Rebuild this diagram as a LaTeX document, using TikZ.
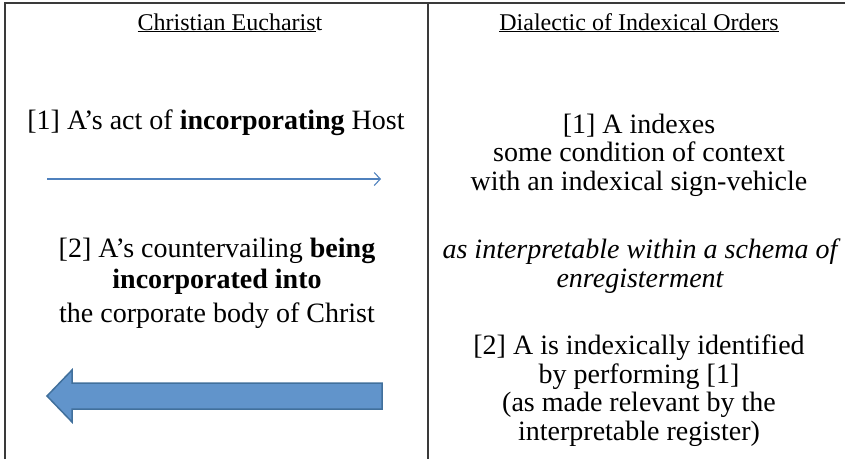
\documentclass[tikz,border=0pt]{standalone}
\usepackage{fontspec}
\setmainfont{Liberation Serif}
\usetikzlibrary{arrows.meta}
\definecolor{lineblue}{HTML}{4F81BD}
\definecolor{fillblue}{HTML}{6194CB}
\definecolor{edgeblue}{HTML}{41709C}
\definecolor{rulegray}{HTML}{3A3A3A}

\begin{document}
\begin{tikzpicture}[x=1pt,y=-1pt,
  head/.style={font=\fontsize{24}{28}\selectfont, anchor=base, inner sep=0pt},
  txt/.style={font=\fontsize{28}{28.5}\selectfont, align=center, anchor=base, inner sep=0pt}]
\useasboundingbox (0,0) rectangle (845,459);
\draw[rulegray, line width=1.2pt] (5,459) -- (5,3) -- (845,3);
\draw[rulegray, line width=1.2pt] (428,3) -- (428,459);

% column heads
\node[head] (TL) at (230,30) {\underline{Christian Eucharis}t};
\node[head] (TR) at (639,30) {\underline{Dialectic of Indexical Orders}};

% left column (base = last line)
\node[txt] (L1) at (216,129) {[1] A's act of \textbf{incorporating} Host};
\node[txt, font=\fontsize{28}{31}\selectfont] (L2) at (217,322)
{[2] A's countervailing \textbf{being}\\ \textbf{incorporated into}\\[3pt] the corporate body of Christ};

% right column
\node[txt] (R1) at (639,190)
{[1] A indexes\\ some condition of context\\ with an indexical sign-vehicle};
\node[txt, font=\fontsize{28}{28.5}\selectfont\itshape] (R2) at (640,287)
{as interpretable within a schema of\\ enregisterment};
\node[txt] (R3) at (639,440)
{[2] A is indexically identified\\ by performing [1]\\ (as made relevant by the\\ interpretable register)};

\coordinate (hostS) at (47,179);
\coordinate (hostE) at (381,179);
\draw[lineblue, line width=1.1pt, -{Straight Barb[length=6pt,width=13pt]}] (hostS) -- (hostE);

\draw[edgeblue, fill=fillblue, line width=1.5pt] (382,383) -- (72,383) -- (72,370)
  -- (47,396) -- (72,422) -- (72,409) -- (382,409) -- cycle;
\end{tikzpicture}
\end{document}
